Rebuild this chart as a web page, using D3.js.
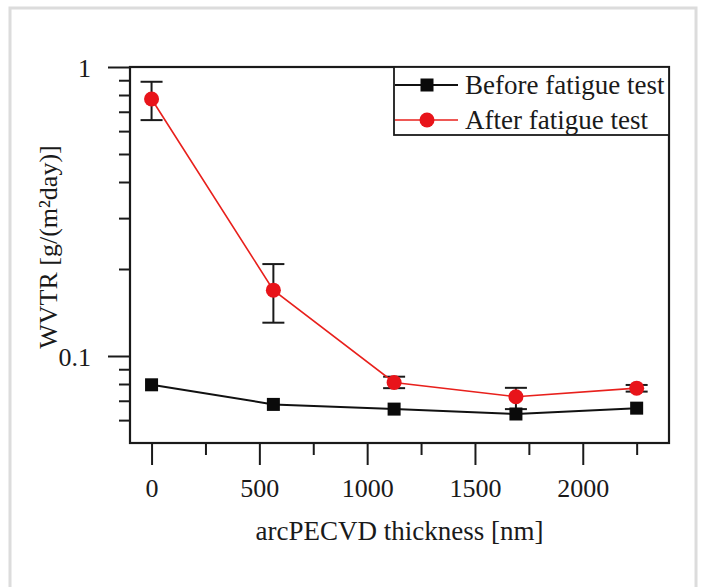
<!DOCTYPE html>
<html>
<head>
<meta charset="utf-8">
<script src="https://cdn.jsdelivr.net/npm/d3@7"></script>
<style>
	body { margin: 0; background: #fff; }
	svg { display: block; }
	text { font-family: "Liberation Serif", "Times New Roman", serif; fill: #1a1a1a; }
</style>
</head>
<body>
<div id="chart"></div>
<script>
// data
const thickness = [0, 565, 1125, 1690, 2250];
const before = [0.0795, 0.068, 0.0655, 0.063, 0.066];
const after = [0.775, 0.169, 0.081, 0.0723, 0.0774];
const afterLow = [0.655, 0.1304, 0.0774, 0.0655, 0.0753];
const afterHigh = [0.889, 0.208, 0.0848, 0.0776, 0.0794];
const xTicks = [0, 500, 1000, 1500, 2000];
const xMinorTicks = [250, 750, 1250, 1750, 2250];
const yTicks = [0.1, 1];
const yMinorTicks = [0.06, 0.07, 0.08, 0.09, 0.2, 0.3, 0.4, 0.5, 0.6, 0.7, 0.8, 0.9];
const seriesNames = ["Before fatigue test", "After fatigue test"];

const W = 702, H = 587;
const FRAME = {left: 130, right: 669, top: 67, bottom: 443};
const RED = "#e8201c";

const svg = d3.select("#chart")
	.append("svg")
	.attr("width", W)
	.attr("height", H);

// light panel border of the source image
svg.append("rect")
	.attr("x", 10)
	.attr("y", 8)
	.attr("width", 686)
	.attr("height", 600)
	.attr("fill", "none")
	.attr("stroke", "#dcdcdc")
	.attr("stroke-width", 3);

const x = d3.scaleLinear().domain([-100, 2400]).range([FRAME.left, FRAME.right]);
const y = d3.scaleLog().domain([0.05, 1]).range([FRAME.bottom, FRAME.top]);

// axes
const xAxisGroup = svg.append("g").attr("transform", `translate(0, ${FRAME.bottom})`);
xAxisGroup.call(d3.axisBottom(x).tickValues(xTicks).tickFormat(d3.format("d")).tickSize(22).tickSizeOuter(0).tickPadding(14));
xAxisGroup.append("g")
	.call(d3.axisBottom(x).tickValues(xMinorTicks).tickSize(12).tickFormat("").tickSizeOuter(0));

const yAxisGroup = svg.append("g").attr("transform", `translate(${FRAME.left}, 0)`);
yAxisGroup.call(d3.axisLeft(y).tickValues(yTicks).tickFormat(d3.format("")).tickSize(22).tickSizeOuter(0).tickPadding(17));
yAxisGroup.append("g")
	.call(d3.axisLeft(y).tickValues(yMinorTicks).tickSize(11).tickFormat("").tickSizeOuter(0));

svg.selectAll(".domain").remove();
svg.selectAll(".tick line").attr("stroke", "#1a1a1a").attr("stroke-width", 2);
svg.selectAll(".tick text")
	.attr("font-size", "26px")
	.attr("font-family", "Liberation Serif")
	.attr("fill", "#1a1a1a");
yAxisGroup.selectAll(".tick text").attr("dy", "0.35em");

// frame
svg.append("rect")
	.attr("x", FRAME.left)
	.attr("y", FRAME.top)
	.attr("width", FRAME.right - FRAME.left)
	.attr("height", FRAME.bottom - FRAME.top)
	.attr("fill", "none")
	.attr("stroke", "#1a1a1a")
	.attr("stroke-width", 2.2);

// axis titles
svg.append("text")
	.attr("x", (FRAME.left + FRAME.right) / 2)
	.attr("y", 540)
	.attr("text-anchor", "middle")
	.attr("font-size", "27px")
	.text("arcPECVD thickness [nm]");

svg.append("text")
	.attr("transform", "rotate(-90)")
	.attr("x", -247)
	.attr("y", 57)
	.attr("text-anchor", "middle")
	.attr("font-size", "26px")
	.text("WVTR [g/(m²day)]");

const line = d3.line()
	.x((d) => x(d[0]))
	.y((d) => y(d[1]));

// after fatigue: error bars
const errs = thickness.map((t, i) => ({t: t, lo: afterLow[i], hi: afterHigh[i]}));
const eb = svg.append("g").attr("stroke", "#1a1a1a").attr("stroke-width", 2);
eb.selectAll(".whisker")
	.data(errs)
	.enter()
	.append("line")
	.attr("x1", (d) => x(d.t))
	.attr("x2", (d) => x(d.t))
	.attr("y1", (d) => y(d.lo))
	.attr("y2", (d) => y(d.hi));
eb.selectAll(".capHi")
	.data(errs)
	.enter()
	.append("line")
	.attr("x1", (d) => x(d.t) - 11)
	.attr("x2", (d) => x(d.t) + 11)
	.attr("y1", (d) => y(d.hi))
	.attr("y2", (d) => y(d.hi));
eb.selectAll(".capLo")
	.data(errs)
	.enter()
	.append("line")
	.attr("x1", (d) => x(d.t) - 11)
	.attr("x2", (d) => x(d.t) + 11)
	.attr("y1", (d) => y(d.lo))
	.attr("y2", (d) => y(d.lo));

// before fatigue series
svg.append("path")
	.datum(thickness.map((t, i) => [t, before[i]]))
	.attr("d", line)
	.attr("fill", "none")
	.attr("stroke", "#111")
	.attr("stroke-width", 2);
svg.selectAll(".sq")
	.data(thickness.map((t, i) => [t, before[i]]))
	.enter()
	.append("rect")
	.attr("x", (d) => x(d[0]) - 6.5)
	.attr("y", (d) => y(d[1]) - 6.5)
	.attr("width", 13)
	.attr("height", 13)
	.attr("fill", "#0a0a0a");

// after fatigue series
svg.append("path")
	.datum(thickness.map((t, i) => [t, after[i]]))
	.attr("d", line)
	.attr("fill", "none")
	.attr("stroke", RED)
	.attr("stroke-width", 1.6);
svg.selectAll(".dot")
	.data(thickness.map((t, i) => [t, after[i]]))
	.enter()
	.append("circle")
	.attr("cx", (d) => x(d[0]))
	.attr("cy", (d) => y(d[1]))
	.attr("r", 7.5)
	.attr("fill", "#e8141a");

// legend
const legend = svg.append("g");
legend.append("rect")
	.attr("x", 394)
	.attr("y", FRAME.top)
	.attr("width", FRAME.right - 394)
	.attr("height", 68)
	.attr("fill", "#fff")
	.attr("stroke", "#1a1a1a")
	.attr("stroke-width", 1.8);
const rows = [
	{name: seriesNames[0], y: 85, color: "#111", shape: "square"},
	{name: seriesNames[1], y: 120, color: RED, shape: "circle"}
];
rows.forEach((r) => {
	legend.append("line")
		.attr("x1", 395)
		.attr("x2", 458)
		.attr("y1", r.y)
		.attr("y2", r.y)
		.attr("stroke", r.color)
		.attr("stroke-width", r.shape === "square" ? 2 : 1.6);
	if (r.shape === "square") {
		legend.append("rect")
			.attr("x", 427 - 6.5)
			.attr("y", r.y - 6.5)
			.attr("width", 13)
			.attr("height", 13)
			.attr("fill", "#0a0a0a");
	} else {
		legend.append("circle")
			.attr("cx", 427)
			.attr("cy", r.y)
			.attr("r", 7.5)
			.attr("fill", "#e8141a");
	}
	legend.append("text")
		.attr("x", 465)
		.attr("y", r.y + 9)
		.attr("font-size", "27px")
		.text(r.name);
});
</script>
</body>
</html>
